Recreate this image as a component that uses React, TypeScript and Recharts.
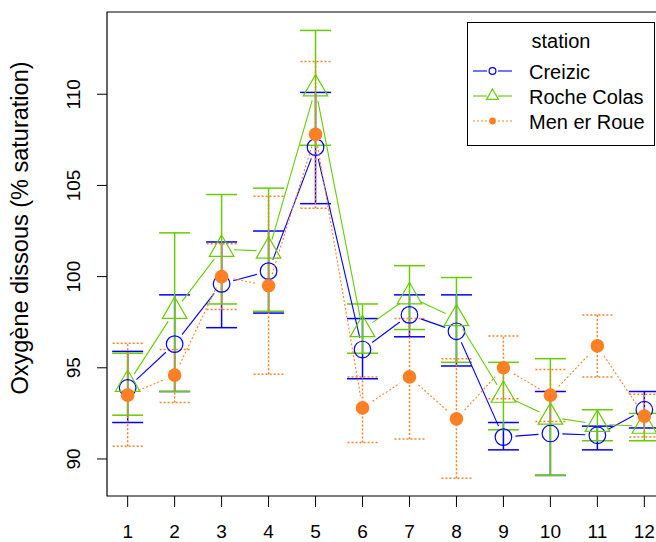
import React from "react";
import {
  ComposedChart,
  Line,
  XAxis,
  YAxis,
  ErrorBar,
  ReferenceArea,
  Legend,
} from "recharts";

// ================= DATA =================
const mois = [1, 2, 3, 4, 5, 6, 7, 8, 9, 10, 11, 12];
const yTicks = [90, 95, 100, 105, 110];
const stations = ["Creizic", "Roche Colas", "Men er Roue"];

const creizicMoy = [93.9, 96.3, 99.6, 100.3, 107.1, 96.0, 97.9, 97.0, 91.2, 91.4, 91.3, 92.7];
const creizicBas = [92.0, 93.7, 97.2, 98.0, 104.0, 94.4, 96.7, 95.1, 90.5, 89.1, 90.5, 91.7];
const creizicHaut = [95.9, 99.0, 101.9, 102.5, 110.1, 97.7, 99.0, 99.0, 92.0, 93.7, 91.8, 93.7];

const rocheMoy = [94.1, 98.1, 101.5, 101.4, 110.3, 97.1, 98.9, 97.7, 93.5, 92.3, 91.9, 91.8];
const rocheBas = [92.4, 93.7, 98.5, 98.1, 107.2, 95.8, 97.1, 95.3, 91.6, 89.1, 91.0, 91.0];
const rocheHaut = [95.8, 102.4, 104.5, 104.85, 113.5, 98.5, 100.6, 99.95, 95.3, 95.5, 92.7, 92.5];

const menMoy = [93.5, 94.6, 100.0, 99.5, 107.8, 92.8, 94.5, 92.2, 95.0, 93.5, 96.2, 92.35];
const menBas = [90.7, 93.1, 98.2, 94.65, 103.75, 90.9, 91.1, 88.95, 93.3, 92.05, 94.5, 91.2];
const menHaut = [96.35, 96.0, 101.8, 104.4, 111.8, 94.5, 97.7, 95.5, 96.75, 94.9, 97.9, 93.55];

const data = mois.map((m, i) => ({
  mois: m,
  creizic: creizicMoy[i],
  creizicErr: [creizicMoy[i] - creizicBas[i], creizicHaut[i] - creizicMoy[i]],
  roche: rocheMoy[i],
  rocheErr: [rocheMoy[i] - rocheBas[i], rocheHaut[i] - rocheMoy[i]],
  men: menMoy[i],
  menErr: [menMoy[i] - menBas[i], menHaut[i] - menMoy[i]],
}));

// ================= STYLE =================
const FONT = '"Liberation Sans", Arial, sans-serif';
const BLUE = "#0000FF";
const GREEN = "#66CD00";
const ORANGE = "#FF7F24";
const X_DOMAIN: [number, number] = [0.56, 12.44];
const Y_DOMAIN: [number, number] = [87.97, 114.51];
const GAP = 12;

type Kind = "circle" | "triangle" | "dot";

function marker(kind: Kind, cx: number, cy: number, color: string, s: number) {
  if (kind === "circle") {
    return <circle cx={cx} cy={cy} r={s} fill="none" stroke={color} strokeWidth={1.2} />;
  }
  if (kind === "triangle") {
    const k = s / 1.347;
    const d = `M${cx},${cy - 1.555 * k} L${cx + s},${cy + 0.778 * k} L${cx - s},${cy + 0.778 * k} Z`;
    return <path d={d} fill="none" stroke={color} strokeWidth={1.2} />;
  }
  return <circle cx={cx} cy={cy} r={s} fill={color} stroke="none" />;
}

// type "b" like R: marker + segment to the next point, with gaps
function makeDot(kind: Kind, color: string, size: number, dash?: string) {
  return (props: any) => {
    const { cx, cy, index, points } = props;
    const next = points ? points[index + 1] : null;
    let seg = null;
    if (next) {
      const dx = next.x - cx;
      const dy = next.y - cy;
      const len = Math.hypot(dx, dy);
      if (len > 2 * GAP) {
        seg = (
          <line
            x1={cx + (dx / len) * GAP}
            y1={cy + (dy / len) * GAP}
            x2={next.x - (dx / len) * GAP}
            y2={next.y - (dy / len) * GAP}
            stroke={color}
            strokeWidth={1.1}
            strokeDasharray={dash}
          />
        );
      }
    }
    return (
      <g key={`dot-${kind}-${index}`}>
        {seg}
        {marker(kind, cx, cy, color, size)}
      </g>
    );
  };
}

const legendItems: { name: string; kind: Kind; color: string; size: number; dash?: string }[] = [
  { name: stations[0], kind: "circle", color: BLUE, size: 3.4 },
  { name: stations[1], kind: "triangle", color: GREEN, size: 6 },
  { name: stations[2], kind: "dot", color: ORANGE, size: 3.4, dash: "2 2" },
];

function LegendBox() {
  return (
    <svg width={188} height={124} style={{ display: "block" }}>
      <rect x={0.5} y={0.5} width={187} height={123} fill="#fff" stroke="#000" strokeWidth={1} />
      <text x={94} y={26} textAnchor="middle" fontFamily={FONT} fontSize={20} fill="#000">
        station
      </text>
      {legendItems.map((it, i) => {
        const y = 49 + i * 25;
        return (
          <g key={it.name}>
            <line x1={6} y1={y} x2={20} y2={y} stroke={it.color} strokeWidth={1.1} strokeDasharray={it.dash} />
            <line x1={31} y1={y} x2={45} y2={y} stroke={it.color} strokeWidth={1.1} strokeDasharray={it.dash} />
            {marker(it.kind, 25.5, y, it.color, it.size)}
            <text x={62} y={y + 8} fontFamily={FONT} fontSize={20} fill="#000">
              {it.name}
            </text>
          </g>
        );
      })}
    </svg>
  );
}

function XTick(props: any) {
  const { x, y, payload } = props;
  return (
    <text x={x} y={y + 29} textAnchor="middle" fontFamily={FONT} fontSize={19} fill="#000">
      {payload.value}
    </text>
  );
}

function YTick(props: any) {
  const { x, y, payload } = props;
  return (
    <text
      x={x - 15}
      y={y}
      transform={`rotate(-90, ${x - 15}, ${y})`}
      textAnchor="middle"
      fontFamily={FONT}
      fontSize={19}
      fill="#000"
    >
      {payload.value}
    </text>
  );
}

export default function App() {
  return (
    <div
      style={{
        position: "absolute",
        left: 0,
        top: 0,
        width: 656,
        height: 542,
        overflow: "hidden",
        background: "#fff",
      }}
    >
      <ComposedChart
        width={680}
        height={542}
        data={data}
        margin={{ top: 12, right: 15, bottom: 0, left: 0 }}
      >
        <XAxis
          dataKey="mois"
          type="number"
          domain={X_DOMAIN}
          allowDataOverflow
          ticks={mois}
          height={46}
          axisLine={false}
          tickSize={11}
          tickLine={{ stroke: "#000" }}
          tick={<XTick />}
        />
        <YAxis
          type="number"
          domain={Y_DOMAIN}
          allowDataOverflow
          ticks={yTicks}
          width={107}
          axisLine={false}
          tickSize={10}
          tickLine={{ stroke: "#000" }}
          tick={<YTick />}
          label={{
            content: () => (
              <text
                x={28}
                y={228}
                transform="rotate(-90, 28, 228)"
                textAnchor="middle"
                fontFamily={FONT}
                fontSize={23.5}
                fill="#000"
              >
                Oxygène dissous (% saturation)
              </text>
            ),
          }}
        />
        <ReferenceArea
          x1={X_DOMAIN[0]}
          x2={X_DOMAIN[1]}
          y1={Y_DOMAIN[0]}
          y2={Y_DOMAIN[1]}
          fill="none"
          fillOpacity={0}
          stroke="#000"
          strokeWidth={1.2}
          ifOverflow="visible"
        />
        <Line
          dataKey="creizic"
          name={stations[0]}
          stroke="none"
          isAnimationActive={false}
          dot={makeDot("circle", BLUE, 8.3)}
          activeDot={false}
        >
          <ErrorBar dataKey="creizicErr" width={15.5} stroke={BLUE} strokeWidth={1.5} />
        </Line>
        <Line
          dataKey="roche"
          name={stations[1]}
          stroke="none"
          isAnimationActive={false}
          dot={makeDot("triangle", GREEN, 12.3)}
          activeDot={false}
        >
          <ErrorBar dataKey="rocheErr" width={15.5} stroke={GREEN} strokeWidth={1.5} />
        </Line>
        <Line
          dataKey="men"
          name={stations[2]}
          stroke="none"
          isAnimationActive={false}
          dot={makeDot("dot", ORANGE, 6.8, "2 2")}
          activeDot={false}
        >
          <ErrorBar
            dataKey="menErr"
            width={15}
            stroke={ORANGE}
            strokeWidth={1.5}
            strokeDasharray="2 2"
          />
        </Line>
        <Legend
          layout="horizontal"
          verticalAlign="middle"
          align="center"
          wrapperStyle={{ position: "absolute", left: 467, top: 22, width: 188, height: 124 }}
          content={() => <LegendBox />}
        />
      </ComposedChart>
    </div>
  );
}
